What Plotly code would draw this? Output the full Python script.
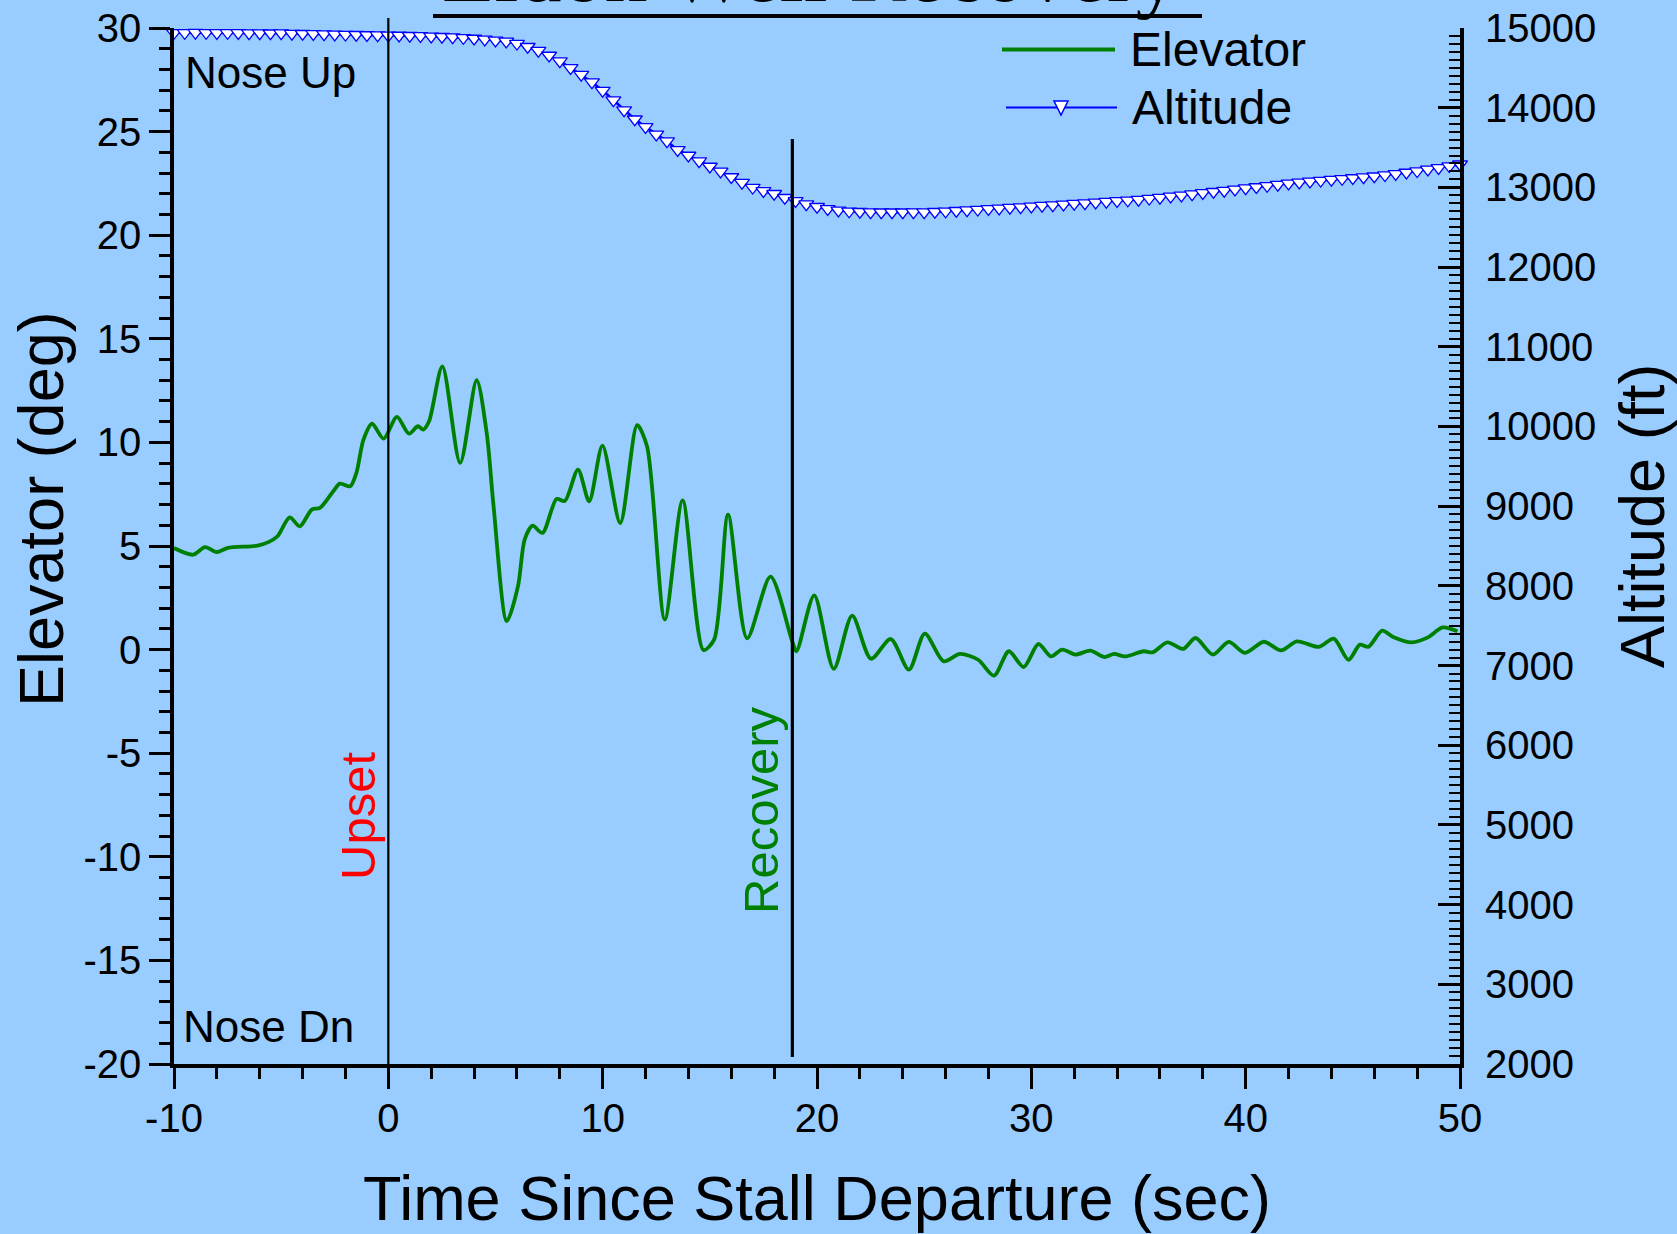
import plotly.graph_objects as go

# ---------------- data ----------------
elev_time = [-10.0, -9.11, -8.55, -8.01, -7.48, -6.10, -5.57, -5.17, -4.60, -4.13,
             -3.57, -3.19, -2.57, -2.26, -1.78, -1.49, -1.16, -0.76, -0.22, 0.40,
             0.96, 1.38, 1.63, 1.90, 2.52, 3.35, 4.12, 4.59, 4.91, 5.53,
             6.05, 6.36, 6.73, 7.19, 7.85, 8.23, 8.85, 9.37, 9.99, 10.82,
             11.61, 12.07, 12.90, 13.73, 14.70, 15.20, 15.85, 16.74, 17.83, 18.82,
             19.04, 19.87, 20.78, 21.64, 22.52, 23.44, 24.29, 25.03, 25.91, 26.67,
             27.52, 28.26, 28.95, 29.64, 30.33, 30.91, 31.44, 32.06, 32.75, 33.40,
             33.86, 34.37, 35.24, 35.66, 36.35, 37.08, 37.66, 38.47, 39.21, 39.97,
             40.85, 41.65, 42.39, 43.42, 44.11, 44.80, 45.33, 45.72, 46.37, 46.88,
             47.76, 48.50, 49.19, 49.88]
elevator_deg = [4.9, 4.58, 4.95, 4.71, 4.91, 5.02, 5.2, 5.47, 6.38, 5.95,
                6.76, 6.84, 7.64, 8.01, 7.88, 8.53, 10.13, 10.9, 10.18, 11.23,
                10.42, 10.78, 10.62, 11.02, 13.67, 9.01, 13.0, 10.45, 6.92, 1.37,
                3.06, 5.31, 5.98, 5.63, 7.27, 7.17, 8.69, 7.16, 9.84, 6.11,
                10.83, 9.81, 1.45, 7.2, -0.02, 0.48, 6.51, 0.54, 3.52, 0.48,
                -0.08, 2.62, -0.93, 1.64, -0.44, 0.51, -0.97, 0.77, -0.57, -0.21,
                -0.49, -1.26, -0.08, -0.84, 0.27, -0.33, 0.0, -0.24, -0.05, -0.36,
                -0.21, -0.33, -0.08, -0.13, 0.35, 0.03, 0.56, -0.24, 0.37, -0.16,
                0.38, -0.04, 0.4, 0.13, 0.53, -0.49, 0.24, 0.13, 0.91, 0.61,
                0.35, 0.59, 1.07, 0.88]

alt_time = [-10.0, -9.5, -9.0, -8.5, -8.0, -7.5, -7.0, -6.5, -6.0, -5.5,
            -5.0, -4.5, -4.0, -3.5, -3.0, -2.5, -2.0, -1.5, -1.0, -0.5,
            0.0, 0.5, 1.0, 1.5, 2.0, 2.5, 3.0, 3.5, 4.0, 4.5,
            5.0, 5.5, 6.0, 6.5, 7.0, 7.5, 8.0, 8.5, 9.0, 9.5,
            10.0, 10.5, 11.0, 11.5, 12.0, 12.5, 13.0, 13.5, 14.0, 14.5,
            15.0, 15.5, 16.0, 16.5, 17.0, 17.5, 18.0, 18.5, 19.0, 19.5,
            20.0, 20.5, 21.0, 21.5, 22.0, 22.5, 23.0, 23.5, 24.0, 24.5,
            25.0, 25.5, 26.0, 26.5, 27.0, 27.5, 28.0, 28.5, 29.0, 29.5,
            30.0, 30.5, 31.0, 31.5, 32.0, 32.5, 33.0, 33.5, 34.0, 34.5,
            35.0, 35.5, 36.0, 36.5, 37.0, 37.5, 38.0, 38.5, 39.0, 39.5,
            40.0, 40.5, 41.0, 41.5, 42.0, 42.5, 43.0, 43.5, 44.0, 44.5,
            45.0, 45.5, 46.0, 46.5, 47.0, 47.5, 48.0, 48.5, 49.0, 49.5,
            50.0]
altitude_ft = [14940, 14940, 14942, 14940, 14938, 14940, 14938, 14935, 14936, 14934,
               14935, 14930, 14928, 14926, 14922, 14920, 14918, 14915, 14912, 14910,
               14908, 14906, 14903, 14900, 14895, 14890, 14885, 14877, 14868, 14858,
               14845, 14832, 14805, 14765, 14715, 14655, 14585, 14500, 14415, 14320,
               14215, 14095, 13970, 13855, 13760, 13665, 13580, 13470, 13400, 13330,
               13262, 13200, 13130, 13060, 12998, 12955, 12920, 12870, 12830, 12790,
               12757, 12730, 12712, 12700, 12694, 12690, 12688, 12688, 12688, 12689,
               12690, 12694, 12700, 12707, 12715, 12722, 12730, 12737, 12745, 12753,
               12762, 12770, 12778, 12786, 12795, 12803, 12812, 12821, 12830, 12838,
               12847, 12860, 12872, 12886, 12900, 12915, 12930, 12945, 12960, 12975,
               12990, 13005, 13020, 13035, 13050, 13063, 13075, 13086, 13097, 13108,
               13118, 13129, 13140, 13155, 13170, 13187, 13205, 13225, 13245, 13268,
               13290]

elev_ticks = [-20, -15, -10, -5, 0, 5, 10, 15, 20, 25, 30]
alt_ticks = [2000, 3000, 4000, 5000, 6000, 7000, 8000, 9000, 10000,
             11000, 12000, 13000, 14000, 15000]
time_ticks = [-10, 0, 10, 20, 30, 40, 50]

upset_time = 0.0
recovery_time = 18.85

# ---------------- layout geometry ----------------
W, H = 1677, 1234
L, T, PW, PH = 174, 28, 1286, 1036
R = W - L - PW
B = H - T - PH

def px(x):
    return (x - L) / PW

def py(y):
    return 1 - (y - T) / PH

BG = "#99CCFF"
FONT = "Liberation Sans, Arial, sans-serif"

fig = go.Figure()

fig.add_trace(go.Scatter(
    x=alt_time, y=altitude_ft, yaxis="y2", name="Altitude",
    mode="lines+markers",
    line=dict(color="#0000FF", width=2.5),
    marker=dict(symbol="triangle-down", size=13, color="white",
                line=dict(color="#0000FF", width=1.3)),
    showlegend=False, cliponaxis=False,
))

fig.add_trace(go.Scatter(
    x=elev_time, y=elevator_deg, name="Elevator",
    mode="lines", line=dict(color="#008000", width=3.8, shape="spline", smoothing=0.8),
    showlegend=False,
))

axis_common = dict(showgrid=False, zeroline=False, color="black", automargin=False,
                   tickfont=dict(family=FONT, size=40, color="black"))

fig.update_layout(
    width=W, height=H,
    margin=dict(l=L, r=R, t=T, b=B, pad=0, autoexpand=False),
    paper_bgcolor=BG, plot_bgcolor=BG,
    font=dict(family=FONT, color="black"),
    xaxis=dict(range=[-10, 50], tickvals=time_ticks, ticktext=[str(v) for v in time_ticks],
               ticks="outside", ticklen=21,
               tickwidth=3, tickcolor="black", showline=True, linewidth=4,
               linecolor="black", ticklabelstandoff=-5,
               minor=dict(dtick=2, ticks="outside", ticklen=11, tickwidth=3,
                          tickcolor="black"),
               **axis_common),
    yaxis=dict(range=[-20, 30], tickvals=elev_ticks, ticktext=[str(v) for v in elev_ticks],
               ticks="outside", ticklen=21,
               tickwidth=3, tickcolor="black", showline=True, linewidth=3.5,
               linecolor="black", ticklabelstandoff=0,
               minor=dict(dtick=1, ticks="outside", ticklen=11, tickwidth=3,
                          tickcolor="black"),
               **axis_common),
    yaxis2=dict(range=[2000, 15000], tickvals=alt_ticks, ticktext=[str(v) for v in alt_ticks],
                overlaying="y", side="right",
                ticks="inside", ticklen=22, tickwidth=3, tickcolor="black",
                showline=True, linewidth=4, linecolor="black", ticklabelstandoff=13,
                minor=dict(dtick=100, ticks="inside", ticklen=11, tickwidth=2,
                           tickcolor="black"),
                **axis_common),
)

shapes = []
# event lines
shapes.append(dict(type="line", xref="x", yref="paper", x0=upset_time, x1=upset_time,
                   y0=0, y1=py(18), line=dict(color="black", width=2.2), layer="above"))
shapes.append(dict(type="line", xref="x", yref="paper", x0=recovery_time, x1=recovery_time,
                   y0=py(1057), y1=py(139), line=dict(color="black", width=3.2), layer="above"))
# title underline
shapes.append(dict(type="line", xref="paper", yref="paper", x0=px(433), x1=px(1202),
                   y0=py(16), y1=py(16), line=dict(color="black", width=4)))
# legend samples
shapes.append(dict(type="line", xref="paper", yref="paper", x0=px(1002), x1=px(1115),
                   y0=py(49.5), y1=py(49.5), line=dict(color="#008000", width=4)))
shapes.append(dict(type="line", xref="paper", yref="paper", x0=px(1006), x1=px(1117),
                   y0=py(107.5), y1=py(107.5), line=dict(color="#0000FF", width=2)))
tri = "M{},{} L{},{} L{},{} Z".format(px(1054), py(101), px(1068), py(101), px(1061), py(115))
shapes.append(dict(type="path", xref="paper", yref="paper", path=tri,
                   fillcolor="white", line=dict(color="#0000FF", width=1.5)))

annotations = [
    dict(text="Eldon Well Recovery", xref="paper", yref="paper", x=px(810), y=py(22.5),
         xanchor="center", yanchor="bottom", showarrow=False,
         font=dict(family="Liberation Serif, Times New Roman, serif", size=86, color="black")),
    dict(text="Elevator", xref="paper", yref="paper", x=px(1128), y=py(49.5),
         xanchor="left", yanchor="middle", showarrow=False,
         font=dict(family=FONT, size=48, color="black")),
    dict(text="Altitude", xref="paper", yref="paper", x=px(1130), y=py(107.5),
         xanchor="left", yanchor="middle", showarrow=False,
         font=dict(family=FONT, size=48, color="black")),
    dict(text="Nose Up", xref="paper", yref="paper", x=px(183), y=py(72.5),
         xanchor="left", yanchor="middle", showarrow=False,
         font=dict(family=FONT, size=44, color="black")),
    dict(text="Nose Dn", xref="paper", yref="paper", x=px(181), y=py(1026),
         xanchor="left", yanchor="middle", showarrow=False,
         font=dict(family=FONT, size=44, color="black")),
    dict(text="Upset", xref="paper", yref="paper", x=px(358), y=py(816),
         xanchor="center", yanchor="middle", textangle=-90, showarrow=False,
         font=dict(family=FONT, size=49, color="#FF0000")),
    dict(text="Recovery", xref="paper", yref="paper", x=px(761), y=py(811),
         xanchor="center", yanchor="middle", textangle=-90, showarrow=False,
         font=dict(family=FONT, size=49, color="#008000")),
    dict(text="Elevator (deg)", xref="paper", yref="paper", x=px(41), y=py(509),
         xanchor="center", yanchor="middle", textangle=-90, showarrow=False,
         font=dict(family=FONT, size=63, color="black")),
    dict(text="Altitude (ft)", xref="paper", yref="paper", x=px(1642), y=py(516),
         xanchor="center", yanchor="middle", textangle=-90, showarrow=False,
         font=dict(family=FONT, size=63, color="black")),
    dict(text="Time Since Stall Departure (sec)", xref="paper", yref="paper",
         x=px(816.5), y=py(1198), xanchor="center", yanchor="middle", showarrow=False,
         font=dict(family=FONT, size=63, color="black")),
]

fig.update_layout(shapes=shapes, annotations=annotations)

fig.write_html("out.html")
